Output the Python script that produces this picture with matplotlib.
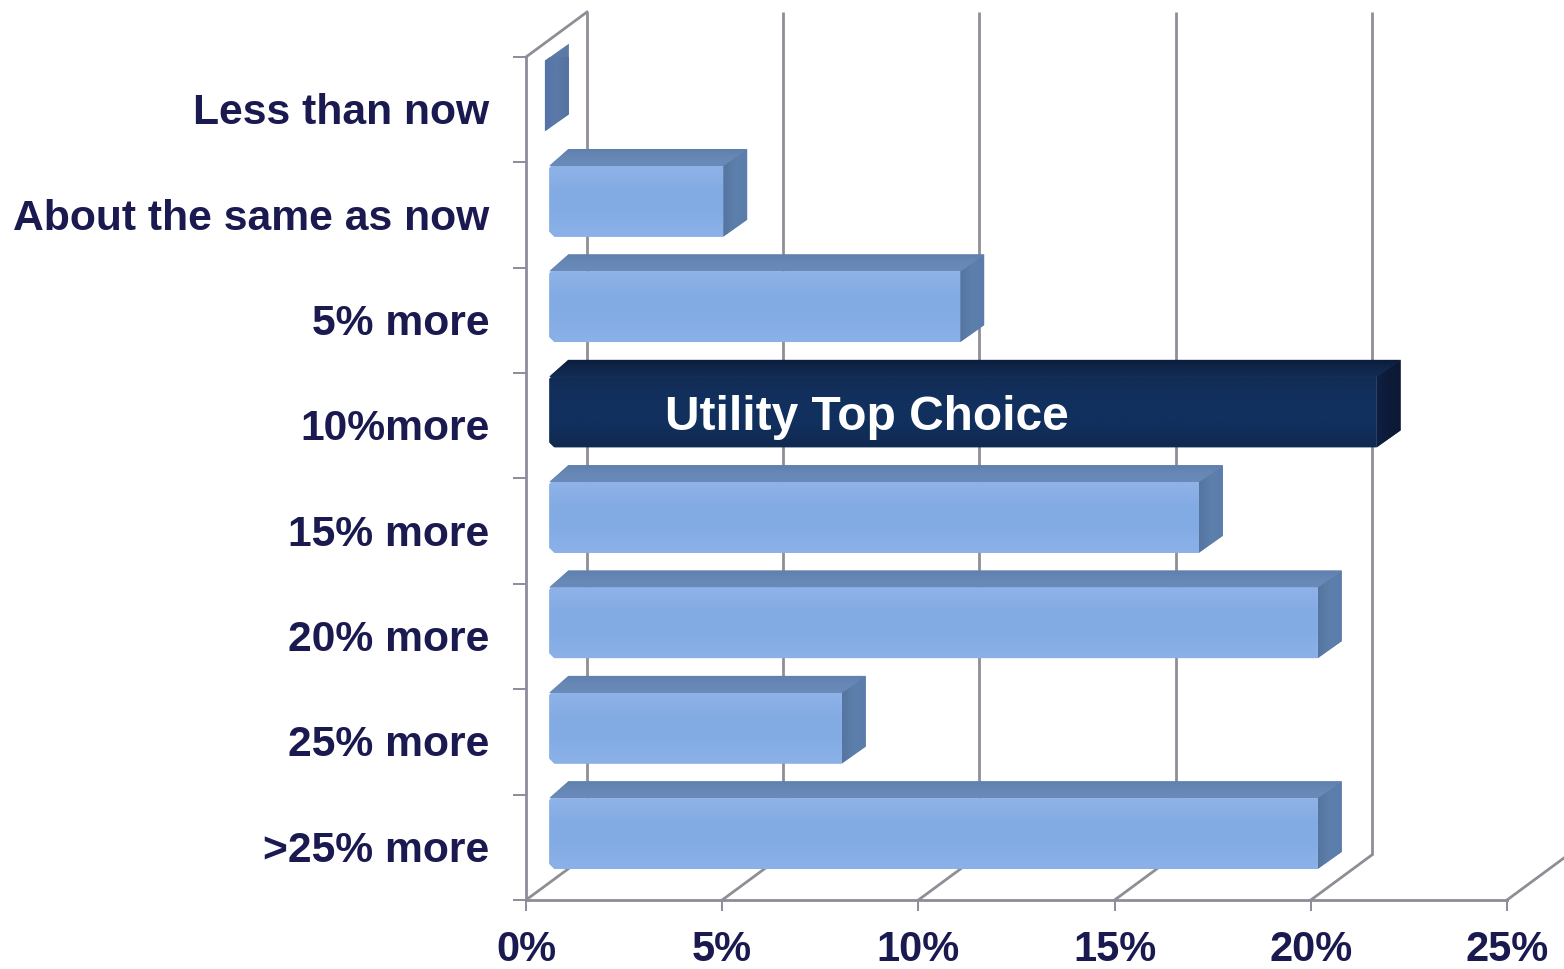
import matplotlib
matplotlib.use("Agg")
import matplotlib.pyplot as plt
from matplotlib.patches import Polygon
from matplotlib.colors import LinearSegmentedColormap
import numpy as np

categories = ["Less than now", "About the same as now", "5% more", "10%more",
              "15% more", "20% more", "25% more", ">25% more"]
values = [0.0, 4.43, 10.47, 21.08, 16.55, 19.58, 7.45, 19.58]
highlight = "10%more"
xticks = [0, 5, 10, 15, 20, 25]
xticklabels = ["0%", "5%", "10%", "15%", "20%", "25%"]
annotation = "Utility Top Choice"

W, H = 1564, 969
L, R, T, B = 526, 1507, 57, 900
PX = 25 / (R - L)          # data units per pixel, x
PY = 8 / (B - T)           # data units per pixel, y
INK = "#1A1A50"
AXIS = "#8C8C9A"

plt.rcParams["font.family"] = ["Liberation Sans", "DejaVu Sans"]
plt.rcParams["font.weight"] = "bold"

fig = plt.figure(figsize=(W / 100, H / 100), dpi=100, facecolor="white")
ax = fig.add_axes([L / W, 1 - B / H, (R - L) / W, (B - T) / H])
ax.patch.set_visible(False)
for s in ("top", "right"):
    ax.spines[s].set_visible(False)
for s in ("left", "bottom"):
    ax.spines[s].set_color(AXIS)
    ax.spines[s].set_linewidth(2.0)

# ticks
ax.set_xticks(xticks, xticklabels)
ax.tick_params(axis="x", length=8, width=1.4, color=AXIS, pad=13.5,
               labelsize=30, labelcolor=INK)
ax.set_yticks(np.arange(0, 9))
ax.set_yticklabels([])
ax.tick_params(axis="y", which="major", length=9.5, width=1.4, color=AXIS)
ax.set_yticks(np.arange(8) + 0.49, categories, minor=True)
ax.tick_params(axis="y", which="minor", length=0, pad=26.3,
               labelsize=30.7, labelcolor=INK)

# back wall, grid and floor
wall_dx, wall_dy = 61 * PX, 45 * PY
for t in xticks:
    ax.plot([t + wall_dx, t + wall_dx], [0 - wall_dy, 8 - wall_dy], color="#8E8E96",
            lw=2.0, clip_on=False, zorder=1, solid_capstyle="butt")
    ax.plot([t, t + wall_dx], [8, 8 - wall_dy], color="#8E8E96", lw=2.0,
            clip_on=False, zorder=1)
ax.plot([0, wall_dx], [0, -wall_dy], color="#8E8E96", lw=2.0, clip_on=False, zorder=1)

# 3-D bars
x0 = 23 * PX + 0.01
bar_dx, bar_dy = 24 * PX, 17 * PY
top_off, bot_off = 0.035, 0.705
cx, cy = 5 * PX, 5 * PY    # small corner softening


def shaded_face(points, colors, z, horizontal=False):
    """Polygon filled by a soft gradient, clipped to its outline."""
    pts = np.array(points)
    poly = Polygon(pts, closed=True, facecolor=colors[len(colors) // 2],
                   edgecolor="none", clip_on=False, zorder=z)
    ax.add_patch(poly)
    cmap = LinearSegmentedColormap.from_list("f", colors)
    ramp = np.linspace(0, 1, 128)
    ramp = ramp[None, :] if horizontal else ramp[:, None]
    im = ax.imshow(ramp, cmap=cmap, vmin=0, vmax=1, aspect="auto", origin="upper",
                   interpolation="bilinear", zorder=z + 0.1,
                   extent=(pts[:, 0].min(), pts[:, 0].max(),
                           pts[:, 1].max(), pts[:, 1].min()))
    im.set_clip_on(True)
    im.set_clip_path(poly)
    return poly


LIGHT = dict(front=["#8FB3E8", "#83ABE3", "#84ACE4", "#8BB1E8"],
             top=["#5F80AE", "#6787B5", "#6A8ABA"],
             side=["#54759F", "#5D7FAC", "#5B7DAB"])
DARK = dict(front=["#122C55", "#12305E", "#11305E", "#10294F"],
            top=["#0C1D3C", "#10264B", "#132C55"],
            side=["#101F42", "#0D1B38", "#0C1935"])

for i, (cat, v) in enumerate(zip(categories, values)):
    y0, y1 = i + top_off, i + bot_off
    if v == 0:
        x = x0 - 4.5 * PX
        shaded_face([(x, y0), (x + bar_dx, y0 - bar_dy), (x + bar_dx, y1 - bar_dy),
                     (x, y1)], ["#5572A8", "#5B7AA8", "#5472A0"], 3, horizontal=True)
        continue
    pal = DARK if cat == highlight else LIGHT
    x1 = x0 + v
    shaded_face([(x0, y0), (x0 + cx * 0.4, y0 - cy * 0.4),
                 (x0 + bar_dx - cx, y0 - bar_dy), (x1 + bar_dx, y0 - bar_dy),
                 (x1, y0)], pal["top"], 3)
    shaded_face([(x1, y0), (x1 + bar_dx, y0 - bar_dy), (x1 + bar_dx, y1 - bar_dy),
                 (x1, y1)], pal["side"], 3, horizontal=True)
    shaded_face([(x0, y0 + cy * 0.4), (x0 + cx * 0.4, y0), (x1, y0), (x1, y1),
                 (x0 + cx, y1), (x0, y1 - cy)], pal["front"], 4)
    if cat == highlight:
        ax.text(x0 + (665 - 549) * PX, i + 0.425, annotation, color="white",
                fontsize=34.5, fontweight="bold", ha="left", va="center", zorder=6)

ax.set_xlim(0, 25)
ax.set_ylim(8, 0)
fig.savefig("out.png", dpi=100, facecolor="white")
